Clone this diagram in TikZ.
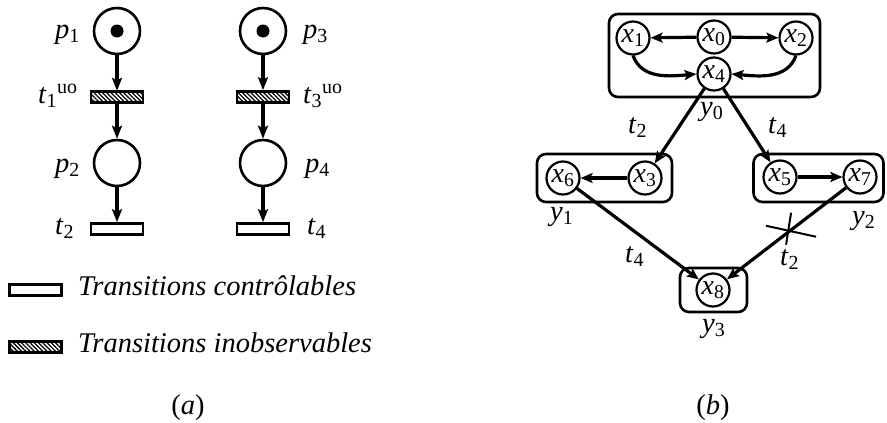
\documentclass[tikz,border=0pt]{standalone}
\usepackage{fontspec}
\setmainfont{Liberation Serif}
\usetikzlibrary{arrows.meta,patterns.meta}
\newcommand{\lab}[2]{\textit{#1}\textsubscript{#2}}
\tikzset{
  txt/.style={font=\fontsize{28.5}{32}\selectfont, inner sep=0pt},
  place/.style={circle, draw, line width=2.6pt, minimum size=46pt, inner sep=0pt},
  token/.style={circle, fill, minimum size=13pt, inner sep=0pt},
  trans/.style={rectangle, draw, line width=2.6pt, minimum width=52pt, minimum height=11pt, inner sep=0pt},
  hatched/.style={trans, pattern={Lines[angle=-45,distance=3pt,line width=1.3pt]}},
  arcA/.style={line width=3.4pt, -{Stealth[length=13pt,width=10pt,inset=2.5pt]}},
  xst/.style={circle, draw, line width=2.2pt, minimum size=33pt, inner sep=0pt, font=\fontsize{28}{32}\selectfont},
  grp/.style={rectangle, draw, line width=2.6pt, rounded corners=9pt, inner sep=0pt},
  arcB/.style={line width=3.2pt, -{Stealth[length=12pt,width=10pt,inset=2.5pt]}},
  crossln/.style={line width=2pt}
}
\begin{document}
\begin{tikzpicture}[x=1pt,y=1pt]
\useasboundingbox (0,0) rectangle (887,-423);
% ---------- (a) ----------
\node[place] (p1) at (117,-31) {};
\node[token] (k1) at (p1) {};
\node[hatched] (t1) at (117,-97) {};
\node[place] (p2) at (117,-163) {};
\node[trans] (t2) at (117,-229) {};
\node[place] (p3) at (263,-31) {};
\node[token] (k3) at (p3) {};
\node[hatched] (t3) at (263,-97) {};
\node[place] (p4) at (263,-163) {};
\node[trans] (t4) at (263,-229) {};
\draw[arcA] (p1) -- (t1);
\draw[arcA] (t1) -- (p2);
\draw[arcA] (p2) -- (t2);
\draw[arcA] (p3) -- (t3);
\draw[arcA] (t3) -- (p4);
\draw[arcA] (p4) -- (t4);
\node[txt, anchor=base west] (lp1) at (55,-38) {\lab{p}{1}};
\node[txt, anchor=base west] (lt1) at (38,-103) {\lab{t}{1}\textsuperscript{uo}};
\node[txt, anchor=base west] (lp2) at (55,-172) {\lab{p}{2}};
\node[txt, anchor=base west] (lt2) at (55,-234) {\lab{t}{2}};
\node[txt, anchor=base west] (lp3) at (303,-38) {\lab{p}{3}};
\node[txt, anchor=base west] (lt3) at (303,-103) {\lab{t}{3}\textsuperscript{uo}};
\node[txt, anchor=base west] (lp4) at (305,-172) {\lab{p}{4}};
\node[txt, anchor=base west] (lt4) at (307,-234) {\lab{t}{4}};
% legend
\node[trans] (lg1) at (35.5,-290) {};
\node[hatched] (lg2) at (35.5,-347) {};
\node[txt, anchor=base west] (lgt1) at (78,-295) {\textit{Transitions contrôlables}};
\node[txt, anchor=base west] (lgt2) at (78,-352) {\textit{Transitions inobservables}};
\node[txt, anchor=base] (capa) at (188,-414) {(\textit{a})};
% ---------- (b) ----------
\node[grp, minimum width=211pt, minimum height=83pt] (Y0) at (714.5,-55.5) {};
\node[grp, minimum width=135pt, minimum height=48pt] (Y1) at (604.5,-178) {};
\node[grp, minimum width=130pt, minimum height=48pt] (Y2) at (818.5,-178) {};
\node[grp, minimum width=67pt, minimum height=44pt] (Y3) at (713.5,-290) {};
\node[xst] (x1) at (633,-38) {\lab{x}{1}};
\node[xst] (x0) at (714,-37) {\lab{x}{0}};
\node[xst] (x2) at (796,-38) {\lab{x}{2}};
\node[xst] (x4) at (714,-74) {\lab{x}{4}};
\node[xst] (x6) at (563,-178) {\lab{x}{6}};
\node[xst] (x3) at (645,-178) {\lab{x}{3}};
\node[xst] (x5) at (780,-177) {\lab{x}{5}};
\node[xst] (x7) at (860,-177) {\lab{x}{7}};
\node[xst] (x8) at (713,-290) {\lab{x}{8}};
\draw[arcB] (x0) -- (x1);
\draw[arcB] (x0) -- (x2);
\draw[arcB] (x1.south) to[out=-70,in=185] (x4.west);
\draw[arcB] (x2.south) to[out=-110,in=-5] (x4.east);
\draw[arcB] (x4) -- (x3);
\draw[arcB] (x4) -- (x5);
\draw[arcB] (x3) -- (x6);
\draw[arcB] (x5) -- (x7);
\draw[arcB] (x6) -- (x8);
\draw[arcB] (x7) -- coordinate[pos=0.47] (cr) (x8);
\draw[crossln] ([shift={(-24,5)}]cr) -- ([shift={(26,-6)}]cr);
\draw[crossln] ([shift={(1,18)}]cr) -- ([shift={(-4,-14)}]cr);
\node[txt, anchor=base west] (ly0) at (700,-115) {\lab{y}{0}};
\node[txt, anchor=base west] (le1) at (628,-133) {\lab{t}{2}};
\node[txt, anchor=base west] (le2) at (768,-133) {\lab{t}{4}};
\node[txt, anchor=base west] (ly1) at (550,-220) {\lab{y}{1}};
\node[txt, anchor=base west] (le3) at (625,-262) {\lab{t}{4}};
\node[txt, anchor=base west] (ly2) at (852,-224) {\lab{y}{2}};
\node[txt, anchor=base west] (le4) at (780,-265) {\lab{t}{2}};
\node[txt, anchor=base west] (ly3) at (702,-332) {\lab{y}{3}};
\node[txt, anchor=base] (capb) at (713,-414) {(\textit{b})};
\end{tikzpicture}
\end{document}
